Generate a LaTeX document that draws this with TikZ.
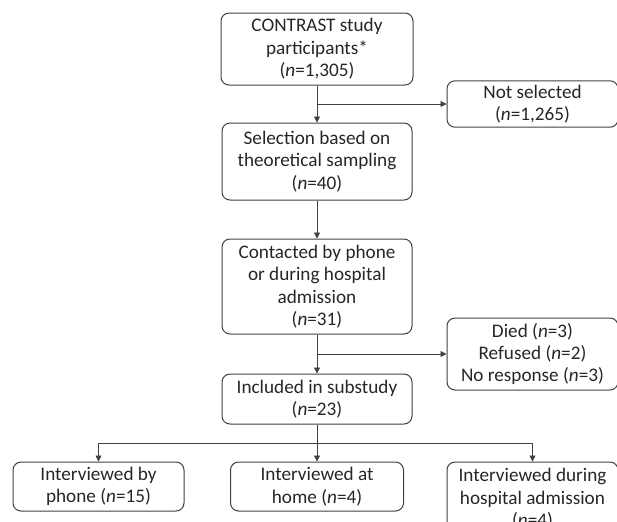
\documentclass[tikz,border=0pt]{standalone}
\usepackage{fontspec}
\setmainfont{Carlito}
\usetikzlibrary{positioning,arrows.meta,calc}

\begin{document}
\begin{tikzpicture}[
      font=\fontsize{9.6}{11.2}\selectfont,
      box/.style={draw=black!75, rounded corners=4pt, line width=0.5pt, align=center, inner sep=2pt, text=black!85},
      arrow/.style={-{Triangle[length=3pt,width=3pt]}, draw=black!75, line width=0.4pt},
    ]
      \useasboundingbox (0,0) rectangle (308.5pt,-260.5pt);
      \node[box, minimum width=96pt, minimum height=36pt] (start) at (158.5pt,-24.5pt) {CONTRAST study\\participants*\\(\textit{n}=1,305)};
      \node[box, minimum width=95pt, minimum height=38.5pt, below=18.5pt of start] (select) {Selection based on\\theoretical sampling\\(\textit{n}=40)};
      \node[box, minimum width=95pt, minimum height=47.5pt, below=19pt of select] (contact) {Contacted by phone\\or during hospital\\admission\\(\textit{n}=31)};
      \node[box, minimum width=95pt, minimum height=25pt, below=19.5pt of contact] (incl) {Included in substudy\\(\textit{n}=23)};
      % side branches
      \coordinate (b1) at ($(start.south)!0.5!(select.north)$);
      \coordinate (e1) at (b1 -| select.east);
      \node[box, minimum width=85.5pt, minimum height=22pt, right=17pt of e1] (notsel) {Not selected\\(\textit{n}=1,265)};
      \coordinate (b2) at ($(contact.south)!0.5!(incl.north)$);
      \coordinate (e2) at (b2 -| contact.east);
      \node[box, minimum width=85.5pt, minimum height=36pt, right=17pt of e2] (lost) {Died (\textit{n}=3)\\Refused (\textit{n}=2)\\No response (\textit{n}=3)};
      % interviews
      \node[box, minimum width=86.5pt, minimum height=24.5pt, below=18.5pt of incl] (home) {Interviewed at\\home (\textit{n}=4)};
      \node[box, minimum width=85.5pt, minimum height=24.5pt, left=22.75pt of home] (phone) {Interviewed by\\phone (\textit{n}=15)};
      \node[box, minimum width=85.5pt, minimum height=37pt, below right=0pt and 21.25pt of home.north east] (hosp) {Interviewed during\\hospital admission\\(\textit{n}=4)};
      \coordinate (b3) at ($(incl.south)!0.5!(home.north)$);
      \draw[arrow] (start) -- (select);
      \draw[arrow] (b1) -- (notsel);
      \draw[arrow] (select) -- (contact);
      \draw[arrow] (contact) -- (incl);
      \draw[arrow] (b2) -- (lost);
      \draw[arrow] (incl) -- (home);
      \draw[arrow] (b3) -| (phone);
      \draw[arrow] (b3) -| (hosp);
    \end{tikzpicture}
\end{document}
